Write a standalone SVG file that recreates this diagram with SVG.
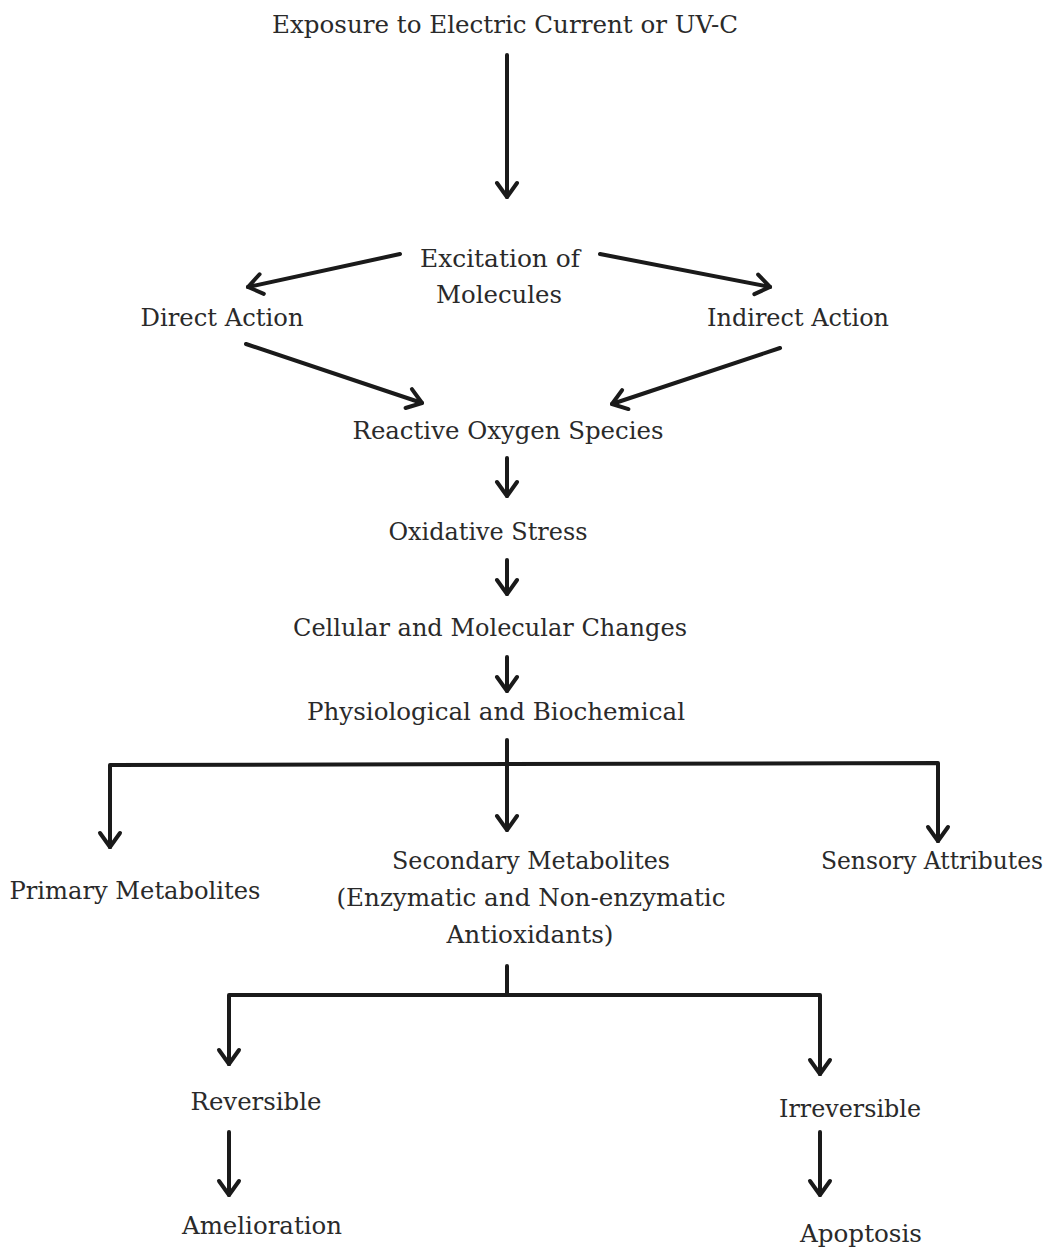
<svg xmlns="http://www.w3.org/2000/svg" width="1051" height="1250" viewBox="0 0 1051 1250">
<style>
text{font-family:"DejaVu Serif","Liberation Serif",serif;font-size:25px;fill:#2a2a2a;text-anchor:middle}
.c line,.c path{stroke:#1a1a1a;stroke-width:4;fill:none;stroke-linecap:round;stroke-linejoin:round}
</style>
<defs>
<marker id="ah" markerUnits="userSpaceOnUse" markerWidth="40" markerHeight="40" refX="20" refY="20" orient="auto" viewBox="0 0 40 40">
<path d="M6,10 L20,20 L6,30" fill="none" stroke="#1a1a1a" stroke-width="4" stroke-linecap="round" stroke-linejoin="round"/>
</marker>
</defs>
<rect width="1051" height="1250" fill="#fff"/>
<g class="c" id="connectors">
<line x1="507" y1="55" x2="507" y2="197" marker-end="url(#ah)"/>
<line x1="400" y1="254" x2="248" y2="287" marker-end="url(#ah)"/>
<line x1="600" y1="254" x2="770" y2="287" marker-end="url(#ah)"/>
<line x1="246" y1="344" x2="422" y2="403" marker-end="url(#ah)"/>
<line x1="780" y1="348" x2="612" y2="404" marker-end="url(#ah)"/>
<line x1="507" y1="458" x2="507" y2="496" marker-end="url(#ah)"/>
<line x1="507" y1="560" x2="507" y2="594" marker-end="url(#ah)"/>
<line x1="507" y1="657" x2="507" y2="691" marker-end="url(#ah)"/>
<line x1="507" y1="740" x2="507" y2="830" marker-end="url(#ah)"/>
<path d="M110,847 L110,765 L938,763 L938,841"/>
<line x1="110" y1="800" x2="110" y2="847" marker-end="url(#ah)"/>
<line x1="938" y1="800" x2="938" y2="841" marker-end="url(#ah)"/>
<line x1="507" y1="966" x2="507" y2="995"/>
<path d="M229,1064 L229,995 L820,995 L820,1074"/>
<line x1="229" y1="1030" x2="229" y2="1064" marker-end="url(#ah)"/>
<line x1="820" y1="1040" x2="820" y2="1074" marker-end="url(#ah)"/>
<line x1="229" y1="1132" x2="229" y2="1195" marker-end="url(#ah)"/>
<line x1="820" y1="1132" x2="820" y2="1195" marker-end="url(#ah)"/>
</g>
<g id="n-exposure"><text x="505" y="33" textLength="466" lengthAdjust="spacingAndGlyphs">Exposure to Electric Current or UV-C</text></g>
<g id="n-excitation"><text x="500" y="267" textLength="160" lengthAdjust="spacingAndGlyphs">Excitation of</text><text x="499" y="303" textLength="126" lengthAdjust="spacingAndGlyphs">Molecules</text></g>
<g id="n-direct"><text x="222" y="326" textLength="163" lengthAdjust="spacingAndGlyphs">Direct Action</text></g>
<g id="n-indirect"><text x="798" y="326" textLength="182" lengthAdjust="spacingAndGlyphs">Indirect Action</text></g>
<g id="n-ros"><text x="508" y="439" textLength="311" lengthAdjust="spacingAndGlyphs">Reactive Oxygen Species</text></g>
<g id="n-os"><text x="488" y="540" textLength="199" lengthAdjust="spacingAndGlyphs">Oxidative Stress</text></g>
<g id="n-cmc"><text x="490" y="636" textLength="394" lengthAdjust="spacingAndGlyphs">Cellular and Molecular Changes</text></g>
<g id="n-pb"><text x="496" y="720" textLength="378" lengthAdjust="spacingAndGlyphs">Physiological and Biochemical</text></g>
<g id="n-primary"><text x="135" y="899" textLength="251" lengthAdjust="spacingAndGlyphs">Primary Metabolites</text></g>
<g id="n-secondary"><text x="531" y="869" textLength="278" lengthAdjust="spacingAndGlyphs">Secondary Metabolites</text><text x="531" y="906" textLength="389" lengthAdjust="spacingAndGlyphs">(Enzymatic and Non-enzymatic</text><text x="530" y="943" textLength="167" lengthAdjust="spacingAndGlyphs">Antioxidants)</text></g>
<g id="n-sensory"><text x="1043" y="869" text-anchor="end" style="text-anchor:end" textLength="222" lengthAdjust="spacingAndGlyphs">Sensory Attributes</text></g>
<g id="n-reversible"><text x="256" y="1110" textLength="131" lengthAdjust="spacingAndGlyphs">Reversible</text></g>
<g id="n-irreversible"><text x="850" y="1117" textLength="142" lengthAdjust="spacingAndGlyphs">Irreversible</text></g>
<g id="n-amelioration"><text x="262" y="1234" textLength="160" lengthAdjust="spacingAndGlyphs">Amelioration</text></g>
<g id="n-apoptosis"><text x="861" y="1242" textLength="122" lengthAdjust="spacingAndGlyphs">Apoptosis</text></g>
</svg>
